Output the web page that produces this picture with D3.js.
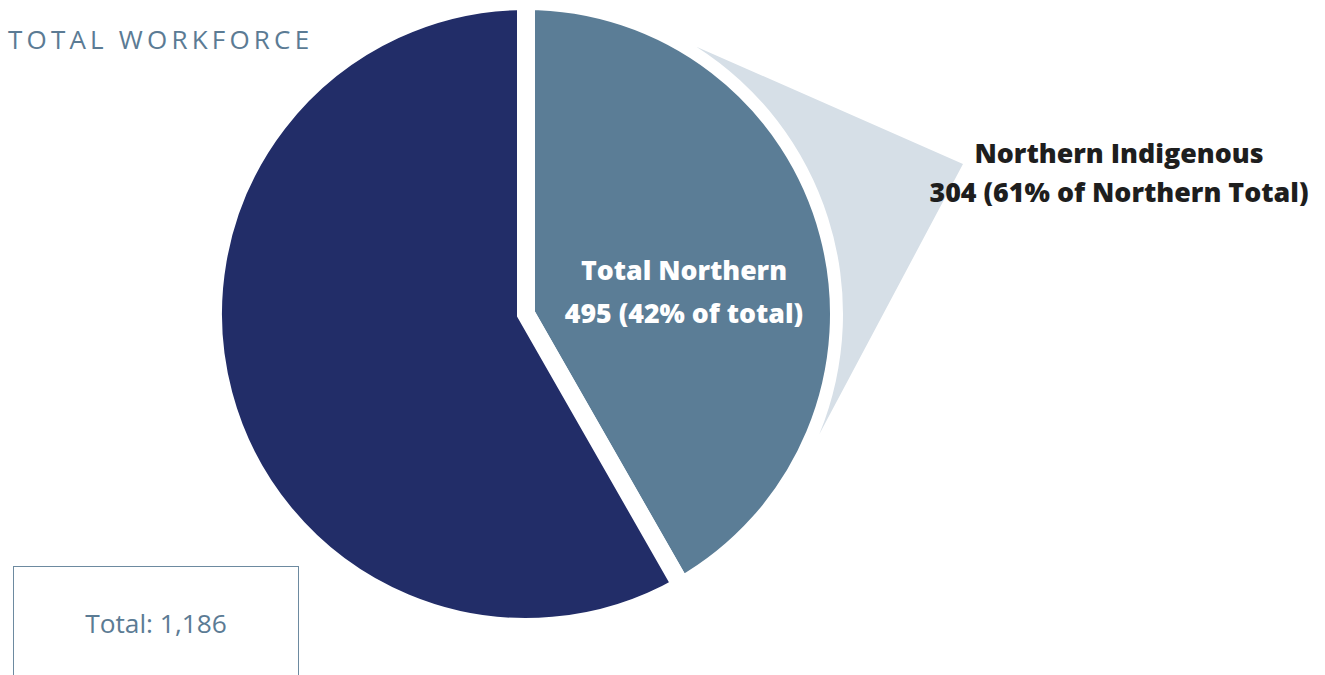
<!DOCTYPE html>
<html><head><meta charset="utf-8">
<script src="https://cdn.jsdelivr.net/npm/d3@7"></script>
<style>body{margin:0;background:#fff}svg{display:block}text{font-family:"Open Sans",sans-serif}</style>
</head><body>
<svg id="c" width="1325" height="675"></svg>
<script>
const categories = ["Other", "Total Northern"];
const values = [691, 495];
const total = 1186;
const indigenousLabel = "Northern Indigenous";
const indigenousValue = 304;
const northernLabelLines = ["Total Northern", "495 (42% of total)"];
const indigenousLabelLines = ["Northern Indigenous", "304 (61% of Northern Total)"];
const titleText = "TOTAL WORKFORCE";
const totalText = "Total: 1,186";

const svg = d3.select("#c");
const cx = 526, cy = 314, R = 313, gap = 18;
const colors = d3.scaleOrdinal().domain(categories).range(["#222d68", "#5b7d96"]);

const order = ["Total Northern", "Other"];
const pie = d3.pie().sort(null).value(d => d.v).startAngle(0).endAngle(2 * Math.PI);
const arcs = pie(order.map(k => ({k, v: values[categories.indexOf(k)]})));
const arc = d3.arc().innerRadius(0).outerRadius(R);
const g = svg.append("g").attr("transform", `translate(${cx},${cy})`);
g.selectAll("path.slice").data(arcs).join("path")
  .attr("class", "slice")
  .attr("d", arc)
  .attr("fill", d => colors(d.data.k))
  .attr("stroke", "#fff").attr("stroke-width", gap).attr("stroke-linejoin", "miter");

const deg = Math.PI / 180;
const cStart = 32.5 * deg, cEnd = 112.3 * deg, cR = 317;
const apex = [963 - cx, 164 - cy];
const p = d3.path();
p.moveTo(cR * Math.sin(cStart), -cR * Math.cos(cStart));
p.arc(0, 0, cR, cStart - Math.PI / 2, cEnd - Math.PI / 2, false);
p.lineTo(apex[0], apex[1]);
p.closePath();
g.append("path").attr("d", p.toString()).attr("fill", "#d6dfe7");

const nl = svg.append("text").attr("x", 684).attr("y", 280).attr("text-anchor", "middle")
  .attr("fill", "#fff").attr("font-weight", 800).attr("font-size", 26.7);
nl.selectAll("tspan").data(northernLabelLines).join("tspan")
  .attr("x", 684).attr("dy", (d, i) => i ? 42.5 : 0).text(d => d);

const il = svg.append("text").attr("x", 1119).attr("y", 163).attr("text-anchor", "middle")
  .attr("fill", "#1e1e1e").attr("font-weight", 800).attr("font-size", 26.8);
il.selectAll("tspan").data(indigenousLabelLines).join("tspan")
  .attr("x", 1119).attr("dy", (d, i) => i ? 38.5 : 0).text(d => d);

svg.append("text").attr("x", 8).attr("y", 49).attr("fill", "#5b7b94")
  .attr("font-size", 26).attr("letter-spacing", 4.2).text(titleText);

svg.append("rect").attr("x", 13.5).attr("y", 566.5).attr("width", 285).attr("height", 140)
  .attr("fill", "none").attr("stroke", "#6d8aa0").attr("stroke-width", 1);
svg.append("text").attr("x", 156).attr("y", 633).attr("text-anchor", "middle")
  .attr("fill", "#5b7b94").attr("font-size", 26.3).text(totalText);
</script>
</body></html>
